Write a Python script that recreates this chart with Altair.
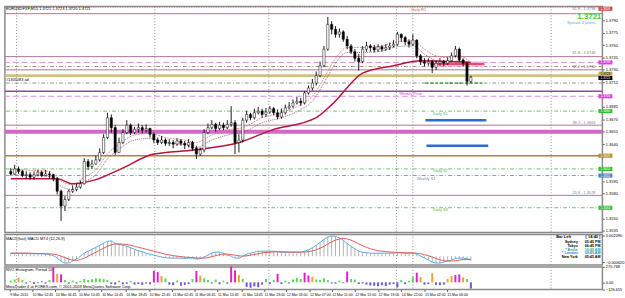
import json
import altair as alt
import pandas as pd

FONT = "Liberation Sans"

# ---------------- EURUSD M15 candles ----------------
first_open = 1.3607
close = [1.3604,1.3610,1.3607,1.3602,1.3603,1.3600,1.3603,1.3606,1.3602,1.3604,
         1.3603,1.3598,1.3583,1.3565,1.3573,1.3583,1.3585,1.3588,1.3592,1.3619,
         1.3613,1.3616,1.3621,1.3630,1.3648,1.3672,1.3660,1.3630,1.3642,1.3654,
         1.3663,1.3654,1.3658,1.3660,1.3657,1.3659,1.3652,1.3645,1.3642,1.3645,
         1.3641,1.3642,1.3640,1.3644,1.3641,1.3639,1.3642,1.3635,1.3628,1.3633,
         1.3654,1.3660,1.3664,1.3659,1.3663,1.3660,1.3664,1.3666,1.3642,1.3645,
         1.3669,1.3676,1.3672,1.3678,1.3680,1.3676,1.3679,1.3683,1.3678,1.3673,
         1.3678,1.3684,1.3686,1.3690,1.3692,1.3690,1.3702,1.3708,1.3714,1.3723,
         1.3735,1.3755,1.3785,1.3779,1.3773,1.3776,1.3767,1.3759,1.3752,1.3744,
         1.3740,1.3755,1.3759,1.3757,1.3754,1.3758,1.3755,1.3757,1.3759,1.3761,
         1.3773,1.3769,1.3764,1.3761,1.3766,1.3747,1.3740,1.3738,1.3740,1.3733,
         1.3738,1.3740,1.3738,1.3741,1.3747,1.3755,1.3742,1.3738,1.3716,1.3721]
high = [1.3611,1.3615,1.3613,1.3609,1.3607,1.3606,1.3607,1.3609,1.3608,1.3609,
        1.3607,1.3604,1.3600,1.3585,1.3577,1.3585,1.3590,1.3592,1.3596,1.3623,
        1.3622,1.3621,1.3626,1.3635,1.3652,1.3678,1.3676,1.3663,1.3648,1.3658,
        1.3669,1.3665,1.3661,1.3665,1.3663,1.3664,1.3660,1.3654,1.3648,1.3650,
        1.3647,1.3646,1.3645,1.3647,1.3646,1.3644,1.3646,1.3644,1.3638,1.3636,
        1.3658,1.3665,1.3669,1.3666,1.3667,1.3666,1.3669,1.3686,1.3669,1.3652,
        1.3672,1.3680,1.3678,1.3683,1.3685,1.3683,1.3684,1.3686,1.3685,1.3682,
        1.3683,1.3688,1.3691,1.3694,1.3697,1.3696,1.3704,1.3711,1.3719,1.3728,
        1.3740,1.3759,1.3794,1.3789,1.3783,1.3780,1.3778,1.3771,1.3761,1.3755,
        1.3749,1.3759,1.3764,1.3761,1.3760,1.3761,1.3760,1.3761,1.3763,1.3766,
        1.3776,1.3774,1.3771,1.3767,1.3773,1.3767,1.3749,1.3744,1.3744,1.3742,
        1.3741,1.3744,1.3742,1.3745,1.3751,1.3759,1.3757,1.3744,1.3740,1.3723]
low = [1.3602,1.3603,1.3604,1.3600,1.3598,1.3597,1.3597,1.3601,1.3600,1.3601,
       1.3598,1.3595,1.3579,1.3547,1.3559,1.3571,1.3581,1.3583,1.3586,1.3591,
       1.3609,1.3610,1.3615,1.3619,1.3628,1.3646,1.3654,1.3627,1.3630,1.3640,
       1.3652,1.3651,1.3652,1.3654,1.3653,1.3654,1.3648,1.3641,1.3639,1.3640,
       1.3638,1.3638,1.3635,1.3638,1.3638,1.3634,1.3636,1.3632,1.3622,1.3626,
       1.3630,1.3652,1.3658,1.3655,1.3657,1.3657,1.3658,1.3661,1.3628,1.3630,
       1.3642,1.3666,1.3669,1.3670,1.3676,1.3672,1.3673,1.3677,1.3675,1.3670,
       1.3671,1.3676,1.3682,1.3684,1.3688,1.3686,1.3688,1.3700,1.3705,1.3711,
       1.3721,1.3733,1.3753,1.3773,1.3769,1.3769,1.3764,1.3755,1.3749,1.3740,
       1.3729,1.3738,1.3752,1.3752,1.3751,1.3752,1.3752,1.3753,1.3754,1.3757,
       1.3759,1.3764,1.3760,1.3757,1.3759,1.3744,1.3736,1.3734,1.3735,1.3726,
       1.3730,1.3735,1.3734,1.3736,1.3740,1.3745,1.3740,1.3734,1.3711,1.3714]

# moving averages
ma_slow_bar = [0, 12, 16, 22, 28.5, 37, 47.5, 59, 67.5, 79, 83.5, 91, 99, 106, 119]
ma_slow = [1.3598, 1.3598, 1.3592, 1.3597, 1.3610, 1.3628, 1.3633, 1.3642, 1.3657,
           1.3672, 1.3690, 1.3726, 1.3735, 1.3741, 1.3739]
ma_fast_bar = [0, 10, 13, 16, 19, 22, 25, 28, 32, 36, 40, 45, 48, 52, 57, 60, 65, 70, 75, 78,
               81, 84, 87, 90, 95, 100, 104, 107, 110, 113, 116, 119]
ma_fast_up = [1.3609, 1.3607, 1.3595, 1.3591, 1.3600, 1.3609, 1.3628, 1.3640, 1.3651, 1.3653,
              1.3648, 1.3645, 1.3642, 1.3651, 1.3658, 1.3660, 1.3672, 1.3678, 1.3688, 1.3698,
              1.3720, 1.3744, 1.3757, 1.3757, 1.3758, 1.3764, 1.3765, 1.3755, 1.3747, 1.3745,
              1.3747, 1.3738]
ma_fast_dn = [1.3603, 1.3601, 1.3589, 1.3585, 1.3594, 1.3603, 1.3622, 1.3634, 1.3645, 1.3647,
              1.3642, 1.3639, 1.3636, 1.3645, 1.3652, 1.3654, 1.3666, 1.3672, 1.3682, 1.3692,
              1.3714, 1.3738, 1.3751, 1.3751, 1.3752, 1.3758, 1.3759, 1.3749, 1.3741, 1.3739,
              1.3741, 1.3732]

# horizontal levels (pivots, fibonacci, zones)
level_price = [1.3806, 1.3798, 1.3746, 1.3739, 1.3734, 1.3730, 1.3723, 1.3714, 1.3704,
               1.3698, 1.3680, 1.3663, 1.3655, 1.3626, 1.3610, 1.3602, 1.3578, 1.3563]
level_kind = ["r1", "fib", "fib", "pivot", "dd", "fib", "khaki", "gray", "purple",
              "pivot", "s", "fib", "band", "olive", "s", "ws", "fib", "s"]

# right-hand price boxes
box_price = [1.3804, 1.3739, 1.37253, 1.37201, 1.3698, 1.3680, 1.3626, 1.3610, 1.3602, 1.3563]
box_text = ["1.3806", "1.3739", "1.3723", "1.3721", "1.3700", "1.3680", "1.3626", "1.3610",
            "1.3602", "1.3563"]
box_kind = ["red", "mag", "gold", "black", "mag", "green", "gold2", "green", "blue", "green"]

price_ticks = [1.3535, 1.3550, 1.3580, 1.3595, 1.3640, 1.3655,
               1.3670, 1.3685, 1.3715, 1.3730, 1.3745, 1.3760, 1.3775, 1.3790]

# short objects on the right part of the chart
blue_seg_from = [107.25, 107.5]
blue_seg_to = [123.0, 123.5]
blue_seg_price = [1.3669, 1.3638]
zone_from, zone_to, zone_lo, zone_hi, zone_mid = 108.5, 122.5, 1.3734, 1.3740, 1.3737
green_seg_from, green_seg_to, green_seg_price = 107.25, 122.5, 1.3714

separator_bar = [1.5, 37.25, 66.75, 99.75, 104, 139.75]

# chart labels tied to levels: bar, price, text, kind
lab_bar = [105.5, 151.25, 151.25, 151.25, 151.25, 100.5, 109.25, 151.25, 109.25, 105.0, 151.25, 109.25]
lab_price = [1.3803, 1.38035, 1.37864, 1.3750, 1.3734, 1.3701, 1.3677, 1.3666, 1.3608, 1.3598, 1.3581, 1.3560]
lab_text = ["Daily R1", "61.8 - 1.3798", "Spread: 3 points", "61.8 - 1.3746", "38.2 - 1.3730",
            "Weekly Pivot", "Daily S1", "38.2 - 1.3663", "Daily S2", "Weekly S1", "23.6 - 1.3578", "Daily S3"]
lab_kind = ["r1", "fib", "spread", "fib", "fib", "pivot", "s", "fib", "s", "ws", "fib", "s"]

# ---------------- MACD ----------------
macd_main = [0.00030,0.00030,0.00030,0.00030,0.00030,0.00025,0.00025,0.00025,0.00025,0.00020,
             0.00015,0.00005,-0.00020,-0.00050,-0.00070,-0.00070,-0.00050,-0.00030,0.00000,0.00030,
             0.00050,0.00070,0.00090,0.00110,0.00130,0.00150,0.00155,0.00130,0.00120,0.00110,
             0.00100,0.00085,0.00070,0.00055,0.00045,0.00030,0.00020,0.00010,0.00000,-0.00010,
             -0.00015,-0.00020,-0.00020,-0.00020,-0.00020,-0.00025,-0.00020,-0.00020,-0.00030,-0.00025,
             -0.00010,0.00010,0.00030,0.00040,0.00040,0.00030,0.00010,0.00000,-0.00020,-0.00020,
             0.00000,0.00020,0.00030,0.00040,0.00050,0.00050,0.00050,0.00050,0.00050,0.00045,
             0.00040,0.00040,0.00040,0.00040,0.00040,0.00040,0.00050,0.00065,0.00085,0.00110,
             0.00140,0.00170,0.00195,0.00205,0.00200,0.00185,0.00160,0.00130,0.00100,0.00075,
             0.00050,0.00040,0.00035,0.00030,0.00030,0.00030,0.00030,0.00030,0.00030,0.00030,
             0.00035,0.00035,0.00030,0.00030,0.00030,0.00020,0.00000,-0.00020,-0.00040,-0.00060,
             -0.00070,-0.00070,-0.00060,-0.00050,-0.00040,-0.00025,-0.00020,-0.00020,-0.00030,-0.00040]
macd_signal = [0.00030,0.00030,0.00030,0.00030,0.00030,0.00030,0.00028,0.00027,0.00026,0.00025,
               0.00023,0.00020,0.00013,0.00000,-0.00015,-0.00030,-0.00040,-0.00042,-0.00035,-0.00020,
               0.00000,0.00020,0.00040,0.00060,0.00080,0.00100,0.00115,0.00123,0.00125,0.00122,
               0.00118,0.00110,0.00100,0.00090,0.00080,0.00070,0.00060,0.00050,0.00040,0.00030,
               0.00020,0.00012,0.00005,0.00000,-0.00005,-0.00010,-0.00013,-0.00015,-0.00018,-0.00020,
               -0.00020,-0.00015,-0.00005,0.00005,0.00015,0.00020,0.00020,0.00015,0.00010,0.00003,
               0.00000,0.00003,0.00010,0.00018,0.00025,0.00032,0.00037,0.00040,0.00043,0.00044,
               0.00044,0.00043,0.00042,0.00042,0.00041,0.00041,0.00042,0.00046,0.00053,0.00065,
               0.00080,0.00100,0.00123,0.00145,0.00163,0.00175,0.00180,0.00175,0.00163,0.00145,
               0.00125,0.00105,0.00090,0.00075,0.00065,0.00055,0.00050,0.00045,0.00042,0.00040,
               0.00038,0.00036,0.00035,0.00034,0.00033,0.00030,0.00025,0.00015,0.00005,-0.00010,
               -0.00025,-0.00038,-0.00046,-0.00050,-0.00050,-0.00046,-0.00040,-0.00035,-0.00033,-0.00033]
macd_ticks = [0.002090, -0.000620]

dash_label = ["Sydney", "Tokyo", "* Berlin", "* London", "New York"]
dash_time = ["05:45 PM", "06:45 PM", "10:45 AM", "09:45 AM", "05:45 AM"]
dash_color = ["#000000", "#000000", "#1f9f7f", "#3a78d8", "#000000"]

# ---------------- NVO histogram ----------------
vol = [30,50,80,40,-20,20,-30,-15,25,-20,
       40,270,150,140,40,-25,30,-20,20,60,
       40,55,70,65,60,45,-30,-40,30,-35,
       -25,25,-40,-30,-45,-20,-35,200,180,110,
       70,-40,-50,30,-60,-45,-30,60,200,120,
       70,40,-20,50,-35,30,-25,280,210,130,
       60,-80,-95,-70,-85,-40,60,-30,40,150,
       -30,30,-20,50,80,60,170,120,100,50,
       45,70,40,-20,-25,30,-15,190,60,50,
       -30,-20,-40,-55,-60,-70,-50,-65,-40,-30,
       -90,40,-30,30,100,170,90,-40,-30,160,
       -45,-50,-40,60,110,130,140,90,60,-110]
vol_col = ['g','g','o','g','n','g','n','n','g','n',
           'g','m','o','m','g','n','g','n','g','g',
           'g','g','g','g','g','g','n','n','g','n',
           'n','g','n','n','n','n','n','m','m','o',
           'g','n','n','g','n','n','n','g','m','o',
           'g','g','n','g','n','g','n','m','m','o',
           'g','n','n','n','n','n','g','n','g','m',
           'n','g','n','g','g','g','m','m','o','g',
           'g','g','g','n','n','g','n','m','g','g',
           'n','n','n','n','n','n','n','n','n','n',
           'n','g','n','g','g','m','o','n','n','o',
           'n','n','n','o','o','m','m','o','g','n']
vol_ticks = [270.768, 0.0, -126.655]

time_tick_bar = [-0.25, 5.5, 11.5, 17.5, 23.5, 29.75, 35.75, 41.75, 47.5, 53.5, 59.75, 65.5,
                 71.25, 77.25, 83, 89, 95, 101, 107, 112.75]
time_tick_label = ["9 Mar 2010", "10 Mar 02:45", "10 Mar 06:45", "10 Mar 10:45", "10 Mar 14:45",
                   "10 Mar 18:45", "10 Mar 22:45", "11 Mar 02:45", "11 Mar 06:45", "11 Mar 10:45",
                   "11 Mar 14:45", "11 Mar 23:00", "12 Mar 03:00", "12 Mar 07:00", "12 Mar 11:00",
                   "12 Mar 15:00", "12 Mar 19:00", "14 Mar 22:00", "15 Mar 02:00", "15 Mar 06:00"]

# ---------------- styles ----------------
W = 608
H_MAIN, H_MACD, H_VOL = 230, 31, 23
LEVEL_STYLE = {
    "r1": dict(color="#c87070", strokeDash=[1, 1.5], strokeWidth=1),
    "fib": dict(color="#a8788f", strokeWidth=1),
    "pivot": dict(color="#e088e0", strokeDash=[6, 3], strokeWidth=1),
    "dd": dict(color="#b09070", strokeDash=[4, 2, 1, 2], strokeWidth=1),
    "khaki": dict(color="#cfc088", strokeWidth=3),
    "gray": dict(color="#909090", strokeDash=[4, 2, 1, 2], strokeWidth=1),
    "purple": dict(color="#a040a8", strokeWidth=1.5),
    "s": dict(color="#70c070", strokeDash=[4, 2, 1, 2], strokeWidth=1),
    "band": dict(color="#d468c8", strokeWidth=4),
    "olive": dict(color="#a88a28", strokeWidth=1.5),
    "ws": dict(color="#7a9cc0", strokeDash=[4, 2, 1, 2], strokeWidth=1),
}
LABEL_COLOR = {"r1": "#c86060", "fib": "#a0708a", "spread": "#6f9fd0", "pivot": "#d040d0",
               "s": "#50b050", "ws": "#6a8cc0"}
BOX_FILL = {"red": "#d04848", "mag": "#e040e0", "gold": "#c8b060", "black": "#000000",
            "green": "#30c030", "gold2": "#b09020", "blue": "#4a80c0"}

xs = alt.Scale(domain=[-0.25, 151.75], nice=False, zero=False)
ys = alt.Scale(domain=[1.353296, 1.380666], nice=False, zero=False)
ms = alt.Scale(domain=[-0.0009, 0.0022], nice=False, zero=False)
vs = alt.Scale(domain=[-126.655, 270.768], nice=False, zero=False)

price_axis = alt.Axis(orient="right", values=price_ticks, format=".4f", title=None)
macd_axis = alt.Axis(orient="right", values=macd_ticks, format=".6f", title=None)
vol_axis = alt.Axis(orient="right", values=vol_ticks, title=None,
                    labelExpr="datum.value == 0 ? '0.00' : format(datum.value, '.3f')")
time_axis = alt.Axis(orient="bottom", values=time_tick_bar, title=None, labelAlign="left",
                     labelBaseline="top", labelFlush=False, labelOverlap=False, labelFontSize=3.6,
                     labelExpr=f"{json.dumps(time_tick_label)}[indexof({json.dumps(time_tick_bar)}, datum.value)]")


def PX(f, axis=None):
    return alt.X(f, type="quantitative", scale=xs, axis=axis)


def PY(f):
    return alt.Y(f, type="quantitative", scale=ys, axis=price_axis)


def MY(f):
    return alt.Y(f, type="quantitative", scale=ms, axis=macd_axis)


def VY(f):
    return alt.Y(f, type="quantitative", scale=vs, axis=vol_axis)


def txt(**kw):
    base = dict(font=FONT, fontSize=4, baseline="middle")
    base.update(kw)
    return base


# ---------------- main price panel ----------------
N = len(close)
opens = [first_open] + close[:-1]
candles = pd.DataFrame({"bar": list(range(N)), "open": opens, "high": high, "low": low, "close": close})

layers = []
for p, k in zip(level_price, level_kind):
    layers.append(alt.Chart(pd.DataFrame({"price": [p]})).mark_rule(**LEVEL_STYLE[k]).encode(y=PY("price")))

sep_df = pd.DataFrame({"bar": separator_bar})
layers.append(alt.Chart(sep_df).mark_rule(color="#8c8c8c", strokeDash=[1, 2], strokeWidth=1).encode(x=PX("bar")))

zone_df = pd.DataFrame({"a": [zone_from], "b": [zone_to], "lo": [zone_lo], "hi": [zone_hi], "mid": [zone_mid]})
layers.append(alt.Chart(zone_df).mark_rect(color="#f3a6d6", opacity=0.8).encode(
    x=PX("a"), x2="b", y=PY("lo"), y2="hi"))
layers.append(alt.Chart(zone_df).mark_rule(color="#e02848", strokeWidth=1.4).encode(
    x=PX("a"), x2="b", y=PY("mid")))
gdf = pd.DataFrame({"a": [green_seg_from], "b": [green_seg_to], "p": [green_seg_price]})
layers.append(alt.Chart(gdf).mark_rule(color="#2a8a2a", strokeDash=[3, 2], strokeWidth=1.3).encode(
    x=PX("a"), x2="b", y=PY("p")))
bdf = pd.DataFrame({"a": blue_seg_from, "b": blue_seg_to, "p": blue_seg_price})
layers.append(alt.Chart(bdf).mark_rule(color="#2a6ed0", strokeWidth=2.5).encode(
    x=PX("a"), x2="b", y=PY("p")))

slow_df = pd.DataFrame({"bar": ma_slow_bar, "v": ma_slow})
fast_df = pd.DataFrame({"bar": ma_fast_bar, "up": ma_fast_up, "dn": ma_fast_dn})
layers.append(alt.Chart(fast_df).mark_line(color="#e07070", strokeWidth=0.8, strokeDash=[2, 1],
                                           interpolate="monotone").encode(x=PX("bar"), y=PY("up")))
layers.append(alt.Chart(fast_df).mark_line(color="#7a4a4a", strokeWidth=0.8, strokeDash=[1, 1],
                                           interpolate="monotone").encode(x=PX("bar"), y=PY("dn")))
layers.append(alt.Chart(slow_df).mark_line(color="#b8143e", strokeWidth=1.5,
                                           interpolate="monotone").encode(x=PX("bar"), y=PY("v")))

layers.append(alt.Chart(candles).mark_rule(color="#000000", strokeWidth=0.9).encode(
    x=PX("bar"), y=PY("low"), y2="high"))
layers.append(alt.Chart(candles).mark_bar(size=2.3, stroke="#000000", strokeWidth=0.5).encode(
    x=PX("bar"), y=PY("open"), y2="close",
    fill=alt.condition("datum.close >= datum.open", alt.value("#ffffff"), alt.value("#000000"))))

lab_df = pd.DataFrame({"bar": lab_bar, "price": lab_price, "text": lab_text, "kind": lab_kind})
for k in LABEL_COLOR:
    sub = lab_df[lab_df.kind == k]
    for align in ("left", "right", "center"):
        if align == "right":
            s2 = sub[sub.bar > 150]
        elif align == "center":
            s2 = sub[(sub.bar <= 150) & (sub.kind == "r1")]
        else:
            s2 = sub[(sub.bar <= 150) & (sub.kind != "r1")]
        if len(s2):
            layers.append(alt.Chart(s2).mark_text(**txt(color=LABEL_COLOR[k], align=align)).encode(
                x=PX("bar"), y=PY("price"), text="text:N"))

layers.append(alt.Chart(pd.DataFrame({"t": ["EURUSDFXF,M15  1.3721 1.3723 1.3720 1.3721"]})).mark_text(
    **txt(align="left", color="#000000")).encode(x=alt.value(1), y=alt.value(3), text="t:N"))
layers.append(alt.Chart(pd.DataFrame({"t": ["#1305083 ad"]})).mark_text(
    **txt(align="left", color="#000000")).encode(x=alt.value(1), y=alt.value(75), text="t:N"))

box_df = pd.DataFrame({"price": box_price, "text": box_text, "kind": box_kind})
for k, col in BOX_FILL.items():
    sub = box_df[box_df.kind == k]
    if len(sub):
        layers.append(alt.Chart(sub).mark_rule(color=col, strokeWidth=4.2, strokeCap="butt").encode(
            x=alt.XDatum(152.0, scale=xs, axis=None), x2=alt.X2Datum(155.6), y=PY("price")))
        layers.append(alt.Chart(sub).mark_text(**txt(align="center", fontSize=3.3,
                                                     color="#000000" if k in ("gold",) else "#ffffff")).encode(
            x=alt.XDatum(153.8, scale=xs, axis=None), y=PY("price"), text="text:N"))

layers.append(alt.Chart(pd.DataFrame({"t": ["1.3721"]})).mark_text(
    font=FONT, fontSize=8, fontWeight="bold", color="#44cc33", align="right", baseline="middle").encode(
    x=alt.value(607), y=alt.value(10.5), text="t:N"))

main = alt.layer(*layers).properties(width=W, height=H_MAIN)

# ---------------- MACD panel ----------------
mdf = pd.DataFrame({"bar": list(range(N)), "main": macd_main, "sig": macd_signal})
macd_layers = [
    alt.Chart(sep_df).mark_rule(color="#8c8c8c", strokeDash=[1, 2]).encode(x=PX("bar")),
    alt.Chart(mdf).mark_bar(size=0.9, color="#a8a8a8").encode(x=PX("bar"), y=MY("main"), y2=alt.Y2Datum(0)),
    alt.Chart(mdf).mark_line(color="#5aa8e8", strokeWidth=1, interpolate="monotone").encode(x=PX("bar"), y=MY("main")),
    alt.Chart(mdf).mark_line(color="#e05a5a", strokeWidth=1, interpolate="monotone").encode(x=PX("bar"), y=MY("sig")),
    alt.Chart(pd.DataFrame({"t": ["MACD(fast)   MACD MT4 (12,26,9)"]})).mark_text(
        **txt(align="left", color="#000000")).encode(x=alt.value(1), y=alt.value(5), text="t:N"),
    alt.Chart(pd.DataFrame({"t": ["Bar Left"]})).mark_text(
        **txt(align="left", color="#000000", fontWeight="bold")).encode(x=alt.value(561), y=alt.value(3), text="t:N"),
    alt.Chart(pd.DataFrame({"t": ["[ 14:40 ]"]})).mark_text(
        **txt(align="right", color="#000000", fontWeight="bold")).encode(x=alt.value(606), y=alt.value(3), text="t:N"),
]
for i, (lab, tm, col) in enumerate(zip(dash_label, dash_time, dash_color)):
    ypx = 7.5 + i * 3.9
    macd_layers.append(alt.Chart(pd.DataFrame({"t": [lab]})).mark_text(
        **txt(align="right", color=col, fontWeight="bold", fontSize=3.7)).encode(x=alt.value(583), y=alt.value(ypx), text="t:N"))
    macd_layers.append(alt.Chart(pd.DataFrame({"t": [tm]})).mark_text(
        **txt(align="right", color=col, fontWeight="bold", fontSize=3.7)).encode(x=alt.value(606), y=alt.value(ypx), text="t:N"))
macd = alt.layer(*macd_layers).properties(width=W, height=H_MACD)

# ---------------- NVO histogram panel ----------------
vdf = pd.DataFrame({"bar": list(range(N)), "v": vol, "c": vol_col})
vol_layers = [
    alt.Chart(sep_df).mark_rule(color="#8c8c8c", strokeDash=[1, 2]).encode(x=PX("bar", time_axis)),
    alt.Chart(vdf).mark_bar(size=2).encode(
        x=PX("bar", time_axis), y=VY("v"), y2=alt.Y2Datum(0),
        color=alt.Color("c:N", legend=None,
                        scale=alt.Scale(domain=["g", "m", "o", "n"],
                                        range=["#5cd65c", "#e020c8", "#f0a030", "#6a58d0"]))),
    alt.Chart(pd.DataFrame({"t": ["NVO Histogram, Period 10"]})).mark_text(
        **txt(align="left", color="#000000")).encode(x=alt.value(1), y=alt.value(3), text="t:N"),
    alt.Chart(pd.DataFrame({"t": ["MetaTrader 4 at FOREX.com, \u00a9 2001-2009 MetaQuotes Software Corp."]})).mark_text(
        **txt(align="left", color="#000000")).encode(x=alt.value(1), y=alt.value(20.5), text="t:N"),
]
volc = alt.layer(*vol_layers).properties(width=W, height=H_VOL)

chart = alt.vconcat(main, macd, volc, spacing=2, bounds="flush").properties(
    padding={"left": 2, "top": 2, "right": 0, "bottom": 0},
    background="#ffffff",
).configure_view(stroke="#8a8a8a", strokeWidth=1.5).configure_axis(
    labelFont=FONT, labelFontSize=4, labelColor="#000000", tickSize=2, tickWidth=0.6,
    tickColor="#000000", domain=False, grid=False, labelPadding=1,
)

chart.save("out.html", embed_options={"renderer": "svg", "actions": False})
